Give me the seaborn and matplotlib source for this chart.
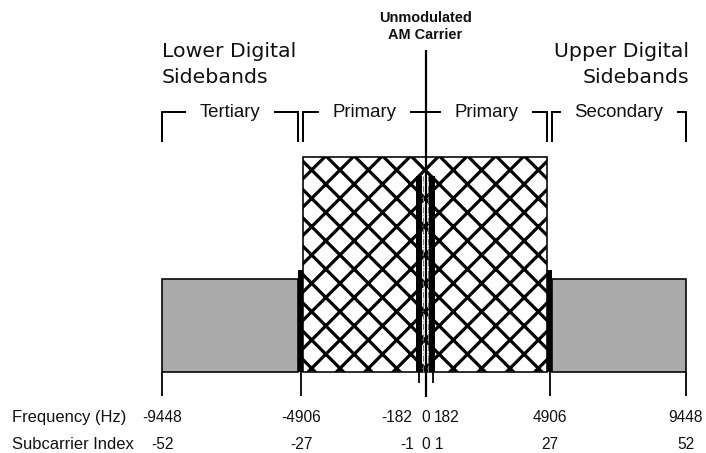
import numpy as np
import matplotlib
matplotlib.use("Agg")
import matplotlib.pyplot as plt
from matplotlib.transforms import blended_transform_factory
import seaborn as sns

# ------------------------------------------
# Data (HD Radio AM hybrid spectrum, schematic)
# ------------------------------------------
sc_spacing = 181.7  # Hz per subcarrier

freq_ticks = [-9448, -4906, -182, 0, 182, 4906, 9448]
index_ticks = [-52, -27, -1, 0, 1, 27, 52]

band_names = ["Tertiary", "Primary", "Primary", "Secondary"]
band_lo_idx = [-52, -26.5, 0, 27.5]
band_hi_idx = [-27.5, 0, 26.5, 52]
band_level = [93, 215, 215, 93]
band_kind = ["gray", "hatch", "hatch", "gray"]

ref_idx = [-27, -1, 1, 27]
ref_level = [102, 196, 196, 102]

carrier_level = 322

# ------------------------------------------
# Layout helpers
# ------------------------------------------
DPI = 170
W, H = 706, 453


def px(v):
    return v * 72 / DPI


# schematic (non linear) frequency axis
fk = np.array(freq_ticks, float)
pk = np.array([162, 301, 418.5, 425.5, 432.5, 549.5, 685.5])
s0 = (pk[1] - pk[0]) / (fk[1] - fk[0])
s1 = (pk[-1] - pk[-2]) / (fk[-1] - fk[-2])


def fwd(f):
    f = np.asarray(f, float)
    out = np.interp(f, fk, pk)
    out = np.where(f < fk[0], pk[0] + (f - fk[0]) * s0, out)
    out = np.where(f > fk[-1], pk[-1] + (f - fk[-1]) * s1, out)
    return out


def inv(p):
    p = np.asarray(p, float)
    out = np.interp(p, pk, fk)
    out = np.where(p < pk[0], fk[0] + (p - pk[0]) / s0, out)
    out = np.where(p > pk[-1], fk[-1] + (p - pk[-1]) / s1, out)
    return out


sns.set_theme(style="white")
plt.rcParams["font.family"] = ["Liberation Sans", "DejaVu Sans"]
plt.rcParams["hatch.linewidth"] = px(3.2)

fig = plt.figure(figsize=((W + 0.01) / DPI, (H + 0.01) / DPI), dpi=DPI)
ax = fig.add_axes([0, 0, 1, 1])
ax.set_xscale("function", functions=(fwd, inv))
ax.set_xlim(float(inv(0)), float(inv(W)))
ax.set_ylim(-(H - 372), 372)
ax.axis("off")

# ---- bands
for lo, hi, lvl, kind in zip(band_lo_idx, band_hi_idx, band_level, band_kind):
    x0, x1 = lo * sc_spacing, hi * sc_spacing
    if kind == "gray":
        ax.bar(x0, lvl, width=x1 - x0, align="edge", color="#ababab",
               edgecolor="black", linewidth=px(1.6), zorder=2)
    else:
        ax.bar(x0, lvl, width=x1 - x0, align="edge", color="white",
               edgecolor="black", linewidth=px(1.6), hatch="xx", zorder=2)

# ---- reference subcarriers
ref_hz = [i * sc_spacing for i in ref_idx]
ax.bar(ref_hz, ref_level, width=sc_spacing, align="center", color="black",
       edgecolor="black", linewidth=0, zorder=3)
ax.vlines([-60, 60], 0, ref_level[1], colors="#777777", linestyles="-.",
          linewidth=px(1), zorder=3)

# ---- ticks under the baseline
tick_len = [-24, -24, -11, -25, -11, -24, -24]
ax.vlines(freq_ticks, tick_len, 0, colors="black", linewidth=px(1.8), zorder=3)

# ---- unmodulated carrier
ax.vlines(0, -25, carrier_level, colors="black", linewidth=px(2.2), zorder=6)
ax.text(0, 350, "Unmodulated", ha="center", va="baseline",
        fontsize=px(14.5), fontweight="bold", color="#111111")
ax.text(0, 333, "AM Carrier", ha="center", va="baseline",
        fontsize=px(14.5), fontweight="bold", color="#111111")

# ---- sideband titles
big = dict(fontsize=px(20.5), family=["DejaVu Sans"], color="#111111", va="baseline")
ax.annotate("Lower Digital", (freq_ticks[0], 315), xytext=(0, 0),
            textcoords="offset pixels", ha="left", **big)
ax.annotate("Sidebands", (freq_ticks[0], 289), xytext=(0, 0),
            textcoords="offset pixels", ha="left", **big)
ax.annotate("Upper Digital", (freq_ticks[-1], 315), xytext=(3.5, 0),
            textcoords="offset pixels", ha="right", **big)
ax.annotate("Sidebands", (freq_ticks[-1], 289), xytext=(3.5, 0),
            textcoords="offset pixels", ha="right", **big)

# ---- brackets
br_top, br_bot = 260, 230
for name, lo, hi in zip(band_names, band_lo_idx, band_hi_idx):
    x0, x1 = lo * sc_spacing, hi * sc_spacing
    xs, ys = [x0, x1], [br_top, br_top]
    if lo != 0:
        xs, ys = [x0] + xs, [br_bot] + ys
    if hi != 0:
        xs, ys = xs + [x1], ys + [br_bot]
    ax.plot(xs, ys, color="black", linewidth=px(2), zorder=3,
            solid_capstyle="butt", solid_joinstyle="miter")
    mid = float(inv((fwd(x0) + fwd(x1)) / 2))
    ax.text(mid, 255, name, ha="center", va="baseline", fontsize=px(18.6),
            color="#111111", zorder=5,
            bbox=dict(boxstyle="square,pad=0.72", fc="white", ec="none"))

# ---- axis rows
row = blended_transform_factory(ax.transAxes, ax.transData)
small = dict(fontsize=px(16.5), color="#111111", va="baseline")
nums = dict(fontsize=px(15.5), color="#111111", va="baseline")
ax.text(12 / W, -50, "Frequency (Hz)", transform=row, ha="left", **small)
ax.text(12 / W, -77, "Subcarrier Index", transform=row, ha="left", **small)

freq_off = [0, 0, -6.5, 0, 1, 0, 0]
freq_ha = ["center", "center", "right", "center", "left", "center", "center"]
idx_off = [0, 0, -4.5, 0, 2.5, 0, 0]
idx_ha = ["center", "center", "right", "center", "left", "center", "center"]
for f, i, fo, fh, io, ih in zip(freq_ticks, index_ticks, freq_off, freq_ha, idx_off, idx_ha):
    ax.annotate(str(f), (f, -50), xytext=(fo, 0), textcoords="offset pixels",
                ha=fh, **nums)
    ax.annotate(str(i), (f, -77), xytext=(io, 0), textcoords="offset pixels",
                ha=ih, **nums)

fig.savefig("out.png", dpi=DPI, facecolor="white")
